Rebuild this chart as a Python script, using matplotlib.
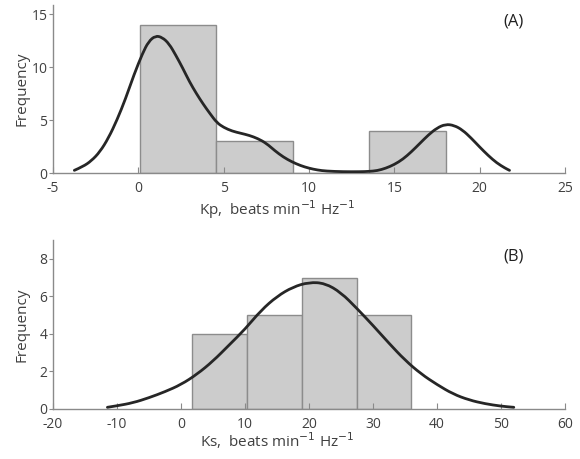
import matplotlib
matplotlib.use("Agg")
import matplotlib.pyplot as plt
from matplotlib.path import Path
from matplotlib.patches import PathPatch
import numpy as np

# ---- Panel A data ----
kp_edges = [0.08, 4.56, 9.05, 13.53, 18.0]
kp_counts = [14, 3, 0, 4]
kp_curve_x = [-3.75, -3.25, -2.75, -2.25, -1.75, -1.25, -0.75, -0.25, 0.25, 0.6, 1.0, 1.4,
              1.8, 2.2, 2.6, 3.0, 3.4, 3.8, 4.2, 4.6, 5.0, 5.5, 6.0, 6.5, 7.0, 7.5, 8.0, 8.5,
              9.0, 9.5, 10.0, 10.5, 11.0, 12.0, 13.0, 13.5, 14.0, 14.5, 15.0, 15.5, 16.0,
              16.5, 17.0, 17.5, 18.0, 18.5, 19.0, 19.5, 20.0, 20.5, 21.0, 21.5, 21.75]
kp_curve_y = [0.25, 0.6, 1.15, 2.0, 3.3, 5.0, 7.0, 9.3, 11.3, 12.4, 12.95, 12.8,
              12.2, 11.1, 9.9, 8.6, 7.5, 6.5, 5.6, 4.75, 4.3, 3.95, 3.75, 3.55, 3.25, 2.8, 2.1, 1.5,
              1.05, 0.7, 0.45, 0.28, 0.18, 0.12, 0.12, 0.15, 0.22, 0.45, 0.8, 1.3, 2.0,
              2.8, 3.6, 4.25, 4.6, 4.5, 4.05, 3.3, 2.45, 1.65, 0.95, 0.45, 0.25]
kp_xticks = [-5, 0, 5, 10, 15, 20, 25]
kp_yticks = [0, 5, 10, 15]

# ---- Panel B data ----
ks_edges = [1.7, 10.3, 18.9, 27.5, 36.0]
ks_counts = [4, 5, 7, 5]
ks_curve_x = [-11.5, -10, -7.5, -5, -2.5, 0, 2.5, 5, 7.5, 10, 12.5, 15, 17.5, 20, 22.5, 25,
              27.5, 30, 32.5, 35, 37.5, 40, 42.5, 45, 47.5, 50, 52]
ks_curve_y = [0.09, 0.17, 0.33, 0.6, 0.92, 1.3, 1.85, 2.55, 3.4, 4.25, 5.25, 6.0, 6.5, 6.75,
              6.7, 6.2, 5.35, 4.45, 3.5, 2.6, 1.87, 1.3, 0.8, 0.48, 0.28, 0.15, 0.09]
ks_xticks = [-20, -10, 0, 10, 20, 30, 40, 50, 60]
ks_yticks = [0, 2, 4, 6, 8]

plt.rcParams['font.family'] = ['Open Sans', 'DejaVu Sans']
plt.rcParams['axes.unicode_minus'] = False
txt = '#404040'
spine_c = '#8a8a8a'

fig = plt.figure(figsize=(5.8, 4.59), dpi=100)
axA = fig.add_axes([53/580, 1-173/459, 512/580, 168/459])
axB = fig.add_axes([53/580, 1-409/459, 512/580, 169/459])


def smooth_path(x, y):
    # quadratic Bezier rendering through the read points (midpoints as anchors)
    pts = np.column_stack([x, y])
    verts = [pts[0]]
    codes = [Path.MOVETO]
    for i in range(1, len(pts) - 1):
        mid = (pts[i] + pts[i + 1]) / 2
        verts += [pts[i], mid]
        codes += [Path.CURVE3, Path.CURVE3]
    verts.append(pts[-1])
    codes.append(Path.LINETO)
    return Path(verts, codes)


def style(ax, edges, counts, cx, cy, xticks, yticks, xlim, ylim, xlabel, tag, xlab_y):
    e = np.array(edges)
    ax.bar(e[:-1], counts, width=np.diff(e), align='edge', color='#cccccc',
           edgecolor='#8c8c8c', linewidth=1.0, zorder=1)
    ax.add_patch(PathPatch(smooth_path(cx, cy), facecolor='none', edgecolor='#262626',
                           linewidth=2.0, zorder=3, capstyle='round'))
    ax.set_xlim(xlim)
    ax.set_ylim(ylim)
    ax.set_xticks(xticks)
    ax.set_yticks(yticks)
    for s in ['top', 'right']:
        ax.spines[s].set_visible(False)
    for s in ['left', 'bottom']:
        ax.spines[s].set_color(spine_c)
        ax.spines[s].set_linewidth(1.0)
    ax.tick_params(axis='x', direction='in', length=4, color=spine_c, labelcolor=txt,
                   labelsize=10, pad=5.5)
    ax.tick_params(axis='y', direction='out', length=3, color=spine_c, labelcolor=txt,
                   labelsize=10, pad=1)
    ax.set_ylabel('Frequency', color=txt, fontsize=11)
    ax.yaxis.set_label_coords(-0.045, 0.5)
    ax.set_xlabel(xlabel, color=txt, fontsize=11, va='center')
    ax.xaxis.set_label_coords(224/512, xlab_y)
    ax.text(461/512, 0.9, tag, transform=ax.transAxes, color='#202020', fontsize=12,
            ha='center', va='center')

style(axA, kp_edges, kp_counts, kp_curve_x, kp_curve_y, kp_xticks, kp_yticks,
      (-5, 25), (0, 15.85), r'Kp,  beats min$^{-1}$ Hz$^{-1}$', '(A)', -37/168)
style(axB, ks_edges, ks_counts, ks_curve_x, ks_curve_y, ks_xticks, ks_yticks,
      (-20, 60), (0, 9.0), r'Ks,  beats min$^{-1}$ Hz$^{-1}$', '(B)', -32/169)

fig.savefig('out.png', dpi=100)
